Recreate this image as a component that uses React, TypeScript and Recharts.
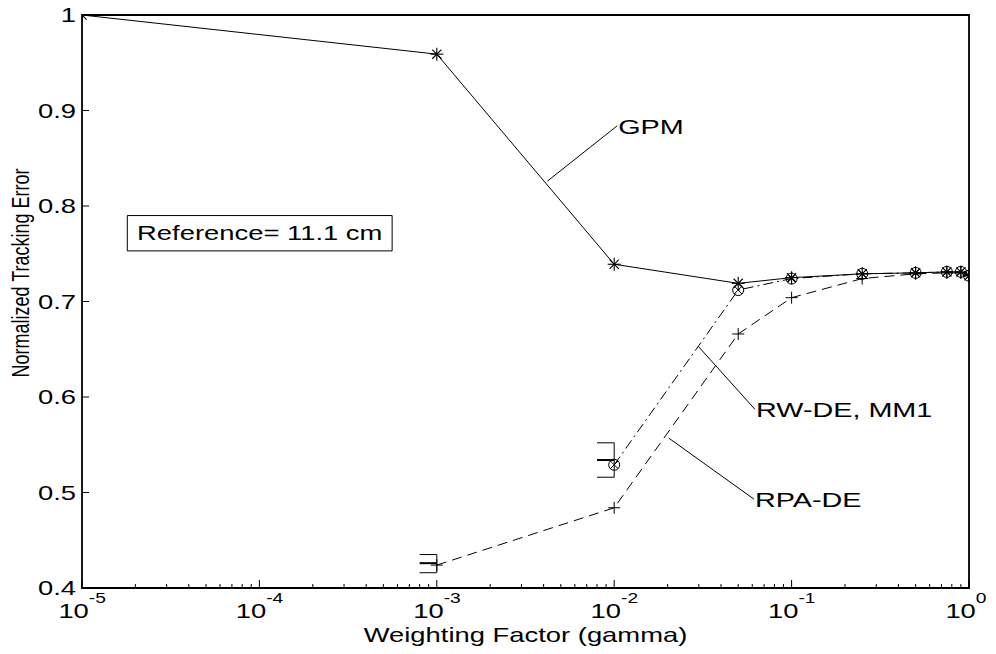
import React from 'react';
import {
  LineChart,
  Line,
  XAxis,
  YAxis,
  ReferenceArea,
  ReferenceLine,
  ReferenceDot,
} from 'recharts';

const FONT = '"Liberation Sans", Arial, Helvetica, sans-serif';
// the figure text is drawn a bit wide, so stretch glyphs horizontally
const STRETCH = 1.37;

// GPM
const gammaGPM = [1e-5, 1e-3, 1e-2, 0.05, 0.1, 0.25, 0.5, 0.75, 0.9, 1];
const errGPM = [1.0, 0.959, 0.739, 0.719, 0.725, 0.729, 0.73, 0.731, 0.731, 0.727];

// RW-DE, MM1
const gammaRW = [1e-2, 0.05, 0.1, 0.25, 0.5, 0.75, 0.9, 1];
const errRW = [0.529, 0.712, 0.724, 0.729, 0.73, 0.731, 0.731, 0.727];

// RPA-DE
const gammaRPA = [1e-3, 1e-2, 0.05, 0.1, 0.25, 0.5, 0.75, 0.9, 1];
const errRPA = [0.424, 0.484, 0.666, 0.704, 0.724, 0.729, 0.73, 0.73, 0.727];

// spread brackets (low / mean / high) at the first point of the DE runs
const bracketGamma = [1e-3, 1e-2];
const bracketLo = [0.416, 0.516];
const bracketMid = [0.426, 0.534];
const bracketHi = [0.435, 0.552];
const bracketWidth = 0.8; // left end of bracket as a fraction of gamma

// leader-line labels
const labelNames = ['GPM', 'RW-DE, MM1', 'RPA-DE'];
const leaderFromX = [0.0042, 0.0298, 0.0203];
const leaderFromY = [0.826, 0.653, 0.557];
const leaderToX = [0.0104, 0.0622, 0.0614];
const leaderToY = [0.884, 0.587, 0.493];

// reference note box
const noteText = 'Reference= 11.1 cm';
const noteX = [1.8e-5, 5.6e-4];
const noteY = [0.753, 0.79];

const majorTicks = [1e-5, 1e-4, 1e-3, 1e-2, 1e-1, 1];
const minorTicks = majorTicks
  .slice(0, 5)
  .flatMap((d) => [2, 3, 4, 5, 6, 7, 8, 9].map((m) => m * d));
const xTicks = [...majorTicks, ...minorTicks];
const yTicks = [0.4, 0.5, 0.6, 0.7, 0.8, 0.9, 1];

const gpmData = gammaGPM.map((g, i) => ({ gamma: g, err: errGPM[i] }));
const rwData = gammaRW.map((g, i) => ({ gamma: g, err: errRW[i] }));
const rpaData = gammaRPA.map((g, i) => ({ gamma: g, err: errRPA[i] }));

const isMajor = (v: number) => Math.abs(Math.log10(v) - Math.round(Math.log10(v))) < 1e-9;

const Wide = ({ x, y, children }: { x: number; y: number; children: React.ReactNode }) => (
  <g transform={`translate(${x},${y}) scale(${STRETCH},1)`}>{children}</g>
);

const StarDot = (p: any) => {
  const { cx, cy } = p;
  if (cx == null || cy == null) return <g key={p.index} />;
  const s = 6.5;
  const d = 4.6;
  return (
    <g key={p.index} stroke="#000" strokeWidth={1.1}>
      <line x1={cx - s} y1={cy} x2={cx + s} y2={cy} />
      <line x1={cx} y1={cy - s} x2={cx} y2={cy + s} />
      <line x1={cx - d} y1={cy - d} x2={cx + d} y2={cy + d} />
      <line x1={cx - d} y1={cy + d} x2={cx + d} y2={cy - d} />
    </g>
  );
};

const CircleXDot = (p: any) => {
  const { cx, cy } = p;
  if (cx == null || cy == null) return <g key={p.index} />;
  const d = 3.9;
  return (
    <g key={p.index} stroke="#000" strokeWidth={1} fill="none">
      <circle cx={cx} cy={cy} r={5.5} />
      <line x1={cx - d} y1={cy - d} x2={cx + d} y2={cy + d} />
      <line x1={cx - d} y1={cy + d} x2={cx + d} y2={cy - d} />
    </g>
  );
};

const PlusDot = (p: any) => {
  const { cx, cy } = p;
  if (cx == null || cy == null) return <g key={p.index} />;
  const s = 6;
  return (
    <g key={p.index} stroke="#000" strokeWidth={1}>
      <line x1={cx - s} y1={cy} x2={cx + s} y2={cy} />
      <line x1={cx} y1={cy - s} x2={cx} y2={cy + s} />
    </g>
  );
};

const BottomTick = (p: any) => {
  const v = p.payload.value;
  const major = isMajor(v);
  const exp = Math.round(Math.log10(v));
  return (
    <g>
      <line x1={p.x} y1={p.y} x2={p.x} y2={p.y - (major ? 8 : 4)} stroke="#000" />
      {major && (
        <Wide x={p.x} y={p.y + 30}>
          <text x={5} y={0} textAnchor="end" fontSize={20} fill="#000" fontFamily={FONT}>
            10
          </text>
          <text x={5} y={-15} textAnchor="start" fontSize={14} fill="#000" fontFamily={FONT}>
            {exp}
          </text>
        </Wide>
      )}
    </g>
  );
};

const TopTick = (p: any) => {
  const major = isMajor(p.payload.value);
  return <line x1={p.x} y1={p.y} x2={p.x} y2={p.y + (major ? 8 : 4)} stroke="#000" />;
};

const LeftTick = (p: any) => {
  const v = p.payload.value;
  return (
    <g>
      <line x1={p.x} y1={p.y} x2={p.x + 7} y2={p.y} stroke="#000" />
      <Wide x={p.x - 6} y={p.y + 7}>
        <text textAnchor="end" fontSize={20} fill="#000" fontFamily={FONT}>
          {v === 1 ? '1' : v.toFixed(1)}
        </text>
      </Wide>
    </g>
  );
};

const RightTick = (p: any) => (
  <line x1={p.x} y1={p.y} x2={p.x - 7} y2={p.y} stroke="#000" />
);

const App = () => {
  return (
    <div style={{ position: 'absolute', left: 0, top: 0, width: 996, height: 654, background: '#fff' }}>
      <LineChart
        width={996}
        height={654}
        margin={{ top: 15, right: 27, bottom: 0, left: 0 }}
        style={{ fontFamily: FONT }}
      >
        <XAxis
          xAxisId="x"
          dataKey="gamma"
          type="number"
          scale="log"
          domain={[1e-5, 1]}
          allowDataOverflow
          ticks={xTicks}
          interval={0}
          height={66}
          tickSize={0}
          tickMargin={0}
          tickLine={false}
          axisLine={false}
          tick={BottomTick}
          label={(p: any) => {
            const vb = p.viewBox;
            return (
              <Wide x={vb.x + vb.width / 2} y={vb.y + 54}>
                <text textAnchor="middle" fontSize={20} fill="#000" fontFamily={FONT}>
                  Weighting Factor (gamma)
                </text>
              </Wide>
            );
          }}
        />
        <XAxis
          xAxisId="top"
          orientation="top"
          mirror
          type="number"
          scale="log"
          domain={[1e-5, 1]}
          allowDataOverflow
          ticks={xTicks}
          interval={0}
          height={0}
          tickSize={0}
          tickMargin={0}
          tickLine={false}
          axisLine={false}
          tick={TopTick}
        />
        <YAxis
          yAxisId="y"
          type="number"
          domain={[0.4, 1]}
          allowDataOverflow
          ticks={yTicks}
          interval={0}
          width={82}
          tickSize={0}
          tickMargin={0}
          tickLine={false}
          axisLine={false}
          tick={LeftTick}
          label={(p: any) => {
            const vb = p.viewBox;
            return (
              <g transform={`translate(${vb.x + 29},${vb.y + 258}) scale(${STRETCH},1) rotate(-90)`}>
                <text textAnchor="middle" fontSize={18} fill="#000" fontFamily={FONT}>
                  Normalized Tracking Error
                </text>
              </g>
            );
          }}
        />
        <YAxis
          yAxisId="right"
          orientation="right"
          mirror
          type="number"
          domain={[0.4, 1]}
          allowDataOverflow
          ticks={yTicks}
          interval={0}
          width={0}
          tickSize={0}
          tickMargin={0}
          tickLine={false}
          axisLine={false}
          tick={RightTick}
        />

        <ReferenceArea
          xAxisId="x"
          yAxisId="y"
          x1={1e-5}
          x2={1}
          y1={0.4}
          y2={1}
          fill="none"
          fillOpacity={0}
          stroke="#000"
          strokeWidth={1.8}
          ifOverflow="visible"
        />

        <ReferenceArea
          xAxisId="x"
          yAxisId="y"
          x1={noteX[0]}
          x2={noteX[1]}
          y1={noteY[0]}
          y2={noteY[1]}
          fill="#fff"
          fillOpacity={1}
          stroke="#000"
          strokeWidth={1}
          label={(p: any) => {
            const vb = p.viewBox;
            return (
              <Wide x={vb.x + vb.width / 2} y={vb.y + vb.height / 2 + 7}>
                <text textAnchor="middle" fontSize={20} fill="#000" fontFamily={FONT}>
                  {noteText}
                </text>
              </Wide>
            );
          }}
        />

        {bracketGamma.map((g, i) => {
          const left = g * bracketWidth;
          const segs = [
            [{ x: left, y: bracketHi[i] }, { x: g, y: bracketHi[i] }],
            [{ x: left, y: bracketLo[i] }, { x: g, y: bracketLo[i] }],
            [{ x: g, y: bracketLo[i] }, { x: g, y: bracketHi[i] }],
          ];
          return (
            <React.Fragment key={`br${i}`}>
              {segs.map((s, j) => (
                <ReferenceLine
                  key={`br${i}-${j}`}
                  xAxisId="x"
                  yAxisId="y"
                  segment={s}
                  stroke="#000"
                  strokeWidth={1}
                  ifOverflow="visible"
                />
              ))}
              <ReferenceLine
                xAxisId="x"
                yAxisId="y"
                segment={[
                  { x: left, y: bracketMid[i] },
                  { x: g, y: bracketMid[i] },
                ]}
                stroke="#000"
                strokeWidth={2}
                ifOverflow="visible"
              />
            </React.Fragment>
          );
        })}

        {labelNames.map((name, i) => (
          <React.Fragment key={name}>
            <ReferenceLine
              xAxisId="x"
              yAxisId="y"
              segment={[
                { x: leaderFromX[i], y: leaderFromY[i] },
                { x: leaderToX[i], y: leaderToY[i] },
              ]}
              stroke="#000"
              strokeWidth={1}
              ifOverflow="visible"
            />
            <ReferenceDot
              xAxisId="x"
              yAxisId="y"
              x={leaderToX[i]}
              y={leaderToY[i]}
              r={0}
              ifOverflow="visible"
              shape={(p: any) => (
                <Wide x={p.cx + 1} y={p.cy + 8}>
                  <text fontSize={21} fill="#000" fontFamily={FONT}>
                    {name}
                  </text>
                </Wide>
              )}
            />
          </React.Fragment>
        ))}

        <Line
          xAxisId="x"
          yAxisId="y"
          data={rpaData}
          dataKey="err"
          type="linear"
          stroke="#000"
          strokeWidth={1}
          strokeDasharray="10 6"
          dot={PlusDot}
          isAnimationActive={false}
        />
        <Line
          xAxisId="x"
          yAxisId="y"
          data={rwData}
          dataKey="err"
          type="linear"
          stroke="#000"
          strokeWidth={1}
          strokeDasharray="10 4 2 4"
          dot={CircleXDot}
          isAnimationActive={false}
        />
        <Line
          xAxisId="x"
          yAxisId="y"
          data={gpmData}
          dataKey="err"
          type="linear"
          stroke="#000"
          strokeWidth={1}
          dot={StarDot}
          isAnimationActive={false}
        />
      </LineChart>
    </div>
  );
};

export default App;
